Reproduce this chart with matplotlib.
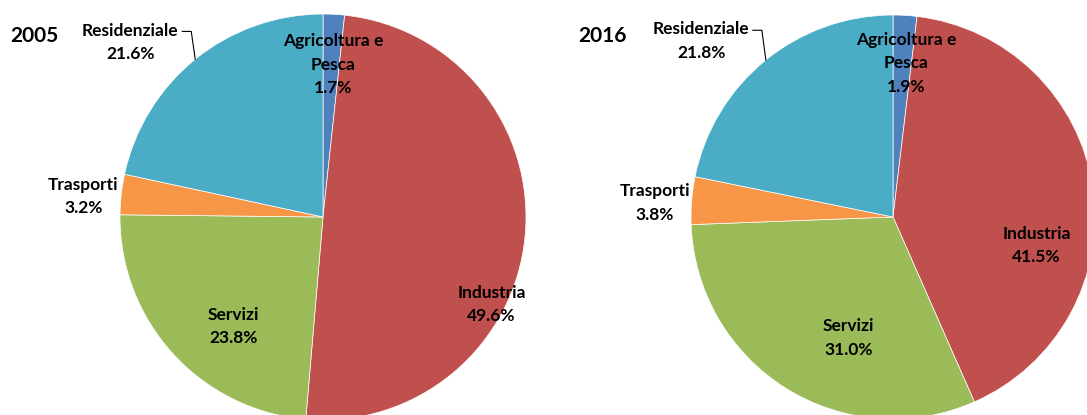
import matplotlib.pyplot as plt
import numpy as np

# sectors, in clockwise order from 12 o'clock
sectors = ['Agricoltura e\nPesca', 'Industria', 'Servizi', 'Trasporti', 'Residenziale']
share_2005 = [1.7, 49.6, 23.8, 3.2, 21.6]
share_2016 = [1.9, 41.5, 31.0, 3.8, 21.8]
colors = ['#4F81BD', '#C0504D', '#9BBB59', '#F79646', '#4BACC6']

W, H = 1087, 415
plt.rcParams['font.family'] = ['Lato', 'DejaVu Sans']

# label anchors relative to pie centre, in radius units (x right, y up)
lab_2005 = [(0.05, 0.75), (0.83, -0.43), (-0.44, -0.54), (-1.18, 0.10), (-0.95, 0.86)]
lab_2016 = [(0.064, 0.76), (0.71, -0.14), (-0.22, -0.60), (-1.18, 0.07), (-0.95, 0.87)]


def draw_pie(ax, vals, cx, cy, r, labpos, year, yx):
    ax.pie(vals, colors=colors, startangle=90, counterclock=False,
           center=(cx, cy), radius=r,
           wedgeprops=dict(edgecolor='white', linewidth=0.5))
    for name, v, (dx, dy) in zip(sectors, vals, labpos):
        ax.text(cx + dx * r, cy + dy * r, '%s\n%.1f%%' % (name, v),
                ha='center', va='center', fontsize=12.5, fontweight='bold',
                linespacing=1.58, color='black')
    # leader line for Residenziale
    ang = np.deg2rad(129)
    ex, ey = cx + r * np.cos(ang), cy + r * np.sin(ang)
    ly = cy + labpos[4][1] * r + 11
    ax.plot([ex - 13, ex - 4, ex], [ly, ly, ey], color='black', lw=0.8)
    ax.text(yx, H - 36, year, ha='left', va='center', fontsize=15,
            fontweight='bold')


fig = plt.figure(figsize=(W / 100, H / 100), dpi=100)
ax = fig.add_axes([0, 0, 1, 1])

draw_pie(ax, share_2005, 323, H - 217, 203, lab_2005, '2005', 10)
draw_pie(ax, share_2016, 893, H - 217, 202, lab_2016, '2016', 578)

ax.set_xlim(0, W)
ax.set_ylim(0, H)
ax.set_aspect('equal')
ax.axis('off')

fig.savefig('out.png', dpi=100, facecolor='white')
